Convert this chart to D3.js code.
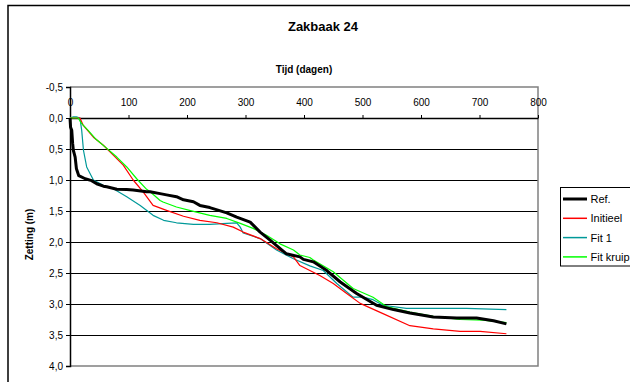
<!DOCTYPE html>
<html>
<head>
<meta charset="utf-8">
<script src="https://cdn.jsdelivr.net/npm/d3@7/dist/d3.min.js"></script>
<style>
  html, body { margin: 0; padding: 0; background: #fff; }
  svg { display: block; font-family: "Liberation Sans", Arial, sans-serif; }
</style>
</head>
<body>
<svg id="chart" width="630" height="382"></svg>
<script>
// Settlement (m) of rod 24 against time (days)
const refDays = [0, 1, 3, 4.5, 5.7, 8.8, 11, 15, 26, 37, 45.6, 57, 62.7, 80, 97, 108, 131, 137, 154, 165, 182, 194, 211, 222, 239, 268, 285, 308, 325, 342, 370, 393, 399, 416, 439, 462, 490, 524, 553, 581, 621, 661, 695, 724, 746];
const refVals = [0, 0.15, 0.2, 0.41, 0.52, 0.63, 0.82, 0.93, 0.98, 1.01, 1.06, 1.1, 1.11, 1.15, 1.155, 1.16, 1.19, 1.19, 1.22, 1.24, 1.27, 1.32, 1.35, 1.41, 1.445, 1.53, 1.6, 1.68, 1.84, 1.97, 2.19, 2.24, 2.28, 2.32, 2.46, 2.645, 2.83, 3.02, 3.09, 3.145, 3.21, 3.225, 3.225, 3.27, 3.32];

const initDays = [0, 17, 22.7, 40, 57, 74, 91, 108, 125, 142, 165, 194, 222, 251, 279, 296, 325, 353, 382, 393, 410, 427, 450, 473, 496, 535, 581, 621, 667, 701, 746];
const initVals = [0, 0, 0.12, 0.31, 0.44, 0.6, 0.76, 1.0, 1.19, 1.41, 1.49, 1.585, 1.65, 1.69, 1.76, 1.84, 1.945, 2.11, 2.24, 2.38, 2.46, 2.54, 2.67, 2.83, 2.99, 3.155, 3.35, 3.4, 3.44, 3.44, 3.48];

const fit1Days = [0, 6, 11, 17, 20, 23, 28.5, 40, 57, 74, 97, 120, 142, 160, 182, 211, 239, 268, 285, 291, 296, 325, 353, 382, 410, 433, 456, 484, 501, 518, 535, 575, 621, 678, 746];
const fit1Vals = [0, -0.02, -0.02, 0, 0.2, 0.52, 0.79, 1.0, 1.085, 1.14, 1.27, 1.41, 1.57, 1.65, 1.69, 1.715, 1.715, 1.7, 1.69, 1.76, 1.855, 1.945, 2.13, 2.27, 2.385, 2.46, 2.67, 2.89, 2.89, 2.93, 3.02, 3.07, 3.07, 3.07, 3.09];

const kruipDays = [0, 14, 20, 31, 43, 63, 80, 97, 114, 131, 137, 154, 159, 182, 211, 239, 268, 291, 313, 336, 359, 382, 393, 410, 416, 450, 484, 518, 541, 581, 621, 667, 706, 746];
const kruipVals = [0, 0, 0.09, 0.2, 0.33, 0.49, 0.63, 0.79, 0.98, 1.15, 1.19, 1.33, 1.355, 1.435, 1.505, 1.57, 1.62, 1.7, 1.78, 1.89, 2.03, 2.13, 2.21, 2.25, 2.29, 2.48, 2.75, 2.89, 3.04, 3.13, 3.2, 3.25, 3.26, 3.3];

const seriesNames = ["Ref.", "Initieel", "Fit 1", "Fit kruip"];
const seriesColors = ["#000000", "#ff0000", "#009999", "#00ff00"];
const seriesWidths = [3, 1.2, 1.2, 1.2];

const xTicks = [0, 100, 200, 300, 400, 500, 600, 700, 800];
const yTicks = [-0.5, 0, 0.5, 1, 1.5, 2, 2.5, 3, 3.5, 4];

const series = [
  { days: refDays, vals: refVals },
  { days: initDays, vals: initVals },
  { days: fit1Days, vals: fit1Vals },
  { days: kruipDays, vals: kruipVals }
].map((s, i) => ({
  name: seriesNames[i], color: seriesColors[i], width: seriesWidths[i],
  points: s.days.map((d, j) => [d, s.vals[j]])
}));

const svg = d3.select("#chart");
const plot = { left: 70, right: 538, top: 87, bottom: 366 };

const x = d3.scaleLinear().domain([0, 800]).range([plot.left, plot.right]);
const y = d3.scaleLinear().domain([-0.5, 4]).range([plot.top, plot.bottom]);

// outer chart frame (runs off the right and bottom edges)
svg.append("rect")
  .attr("x", 8).attr("y", 5.5).attr("width", 640).attr("height", 400)
  .attr("fill", "none").attr("stroke", "#000").attr("stroke-width", 1.5);

// chart title and axis titles
svg.append("text").attr("x", 323).attr("y", 30.5)
  .attr("text-anchor", "middle").attr("font-size", 13).attr("font-weight", "bold")
  .text("Zakbaak 24");
svg.append("text").attr("x", (plot.left + plot.right) / 2).attr("y", 73)
  .attr("text-anchor", "middle").attr("font-size", 10).attr("font-weight", "bold")
  .text("Tijd (dagen)");
svg.append("text")
  .attr("transform", `translate(32.5,${(plot.top + plot.bottom) / 2 + 8}) rotate(-90)`)
  .attr("text-anchor", "middle").attr("font-size", 10).attr("font-weight", "bold")
  .text("Zetting (m)");

// horizontal gridlines
svg.append("g").selectAll("line")
  .data(yTicks.filter(v => v > 0 && v < 4))
  .join("line")
  .attr("x1", plot.left).attr("x2", plot.right)
  .attr("y1", d => Math.round(y(d)) + 0.5).attr("y2", d => Math.round(y(d)) + 0.5)
  .attr("stroke", "#000").attr("stroke-width", 1);

// grey plot border (top, right, bottom)
svg.append("path")
  .attr("d", `M${plot.left},${plot.top}H${plot.right}V${plot.bottom}H${plot.left}`)
  .attr("fill", "none").attr("stroke", "#808080").attr("stroke-width", 1.5);

// y axis
const yAxis = d3.axisLeft(y).tickValues(yTicks).tickSize(4).tickPadding(3)
  .tickFormat(d => d3.format(".1f")(d).replace(".", ",").replace("−", "-"));
const gy = svg.append("g").attr("transform", `translate(${plot.left},0)`).call(yAxis);
gy.select(".domain").attr("stroke", "#000").attr("stroke-width", 1.5);
gy.selectAll(".tick line").attr("stroke", "#000");
gy.selectAll("text").attr("font-size", 10).attr("fill", "#000")
  .attr("font-family", "'Liberation Sans', Arial, sans-serif");

// x axis, crossing at zero settlement with labels above
const xAxis = d3.axisTop(x).tickValues(xTicks).tickSize(3).tickPadding(9).tickSizeOuter(0);
const gx = svg.append("g").attr("transform", `translate(0,${y(0)})`).call(xAxis);
gx.select(".domain").attr("stroke", "#000").attr("stroke-width", 1.5);
gx.selectAll(".tick line").attr("stroke", "#000");
gx.selectAll("text").attr("font-size", 10).attr("fill", "#000")
  .attr("font-family", "'Liberation Sans', Arial, sans-serif");

// series lines
const line = d3.line().x(d => x(d[0])).y(d => y(d[1]));
const order = [2, 1, 3, 0];
svg.append("g").selectAll("path")
  .data(order.map(i => series[i]))
  .join("path")
  .attr("d", d => line(d.points))
  .attr("fill", "none")
  .attr("stroke", d => d.color)
  .attr("stroke-width", d => d.width)
  .attr("stroke-linejoin", "round");

// legend
const lg = svg.append("g");
lg.append("rect").attr("x", 560.5).attr("y", 187.5).attr("width", 80).attr("height", 78.5)
  .attr("fill", "#fff").attr("stroke", "#000").attr("stroke-width", 1);
const items = lg.selectAll("g.item").data(series).join("g")
  .attr("transform", (d, i) => `translate(0,${199 + i * 19.3})`);
items.append("line").attr("x1", 563).attr("x2", 587).attr("y1", 0).attr("y2", 0)
  .attr("stroke", d => d.color).attr("stroke-width", d => d.width === 3 ? 3 : 1.5);
items.append("text").attr("x", 590.5).attr("y", 4).attr("font-size", 11)
  .text(d => d.name);
</script>
</body>
</html>
